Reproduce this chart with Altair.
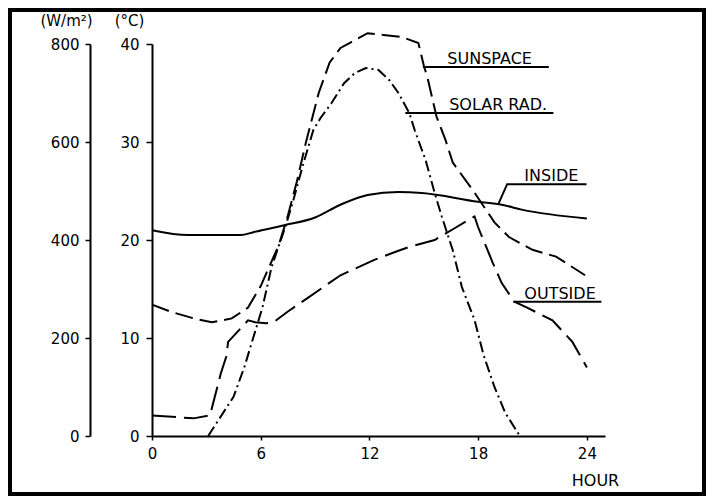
import altair as alt
import pandas as pd

FONT = "DejaVu Sans"

# ---- data ----
inside_hour = [0, 2, 4.9, 5.6, 7.3, 9, 10.4, 11.9, 13.6, 14.9, 18, 19.3, 20.4, 24]
inside_temp = [21.0, 20.5, 20.5, 20.8, 21.5, 22.3, 23.6, 24.6, 24.9, 24.8, 23.9, 23.6, 23.1, 22.2]

sunspace_hour = [0, 1, 2.3, 3.3, 4.4, 5.3, 6, 7, 7.5, 8, 8.5, 9.2, 9.8, 10.4, 11, 11.9, 12.9, 13.8,
                 14.7, 15.0, 15.2, 15.7, 16.2, 16.6, 17.7, 18.9, 19.7, 21, 22.3, 23.9]
sunspace_temp = [13.4, 12.7, 12.0, 11.6, 12.0, 13.1, 15.3, 19.5, 22.5, 26.0, 30.0, 35.0, 38.1, 39.6,
                 40.2, 41.1, 40.9, 40.7, 40.1, 37.8, 36.6, 32.6, 30.2, 27.9, 25.1, 21.8, 20.3, 19.0,
                 18.3, 16.4]

outside_hour = [0, 2.3, 3.2, 3.8, 4.1, 4.2, 5.3, 5.7, 6.3, 6.7, 7.5, 8.6, 10.4, 12.3, 13.6, 14.2,
                15.6, 16.7, 17.8, 18.0, 18.8, 19.3, 20, 20.7, 22.1, 23.2, 24]
outside_temp = [2.1, 1.8, 2.1, 6.4, 8.1, 9.6, 11.8, 11.6, 11.5, 11.6, 12.7, 14.1, 16.4, 18.0, 18.9,
                19.3, 20.0, 21.2, 22.4, 21.3, 17.7, 15.6, 13.7, 13.1, 11.8, 9.6, 7.0]

solar_hour = [3.1, 4.5, 5.1, 5.6, 6.1, 6.6, 7.35, 7.8, 8.3, 8.9, 9.3, 9.9, 10.6, 11.2, 11.8, 12.5,
              13.1, 13.6, 14.2, 14.5, 15.1, 15.6, 16, 16.6, 17.1, 17.8, 18.3, 18.9, 19.5, 20.3]
solar_wm2 = [0, 80, 141, 202, 263, 345, 426, 481, 549, 624, 649, 679, 720, 741, 751, 747, 726, 700,
             659, 624, 563, 496, 447, 379, 304, 237, 165, 100, 47, 0]

x_ticks = [0, 6, 12, 18, 24]
temp_ticks = [0, 10, 20, 30, 40]
wm2_ticks = [0, 200, 400, 600, 800]

# labels (in hour / °C coordinates)
ann_label = ["SUNSPACE", "SOLAR RAD.", "INSIDE", "OUTSIDE"]
ann_hour = [16.3, 16.4, 20.55, 20.55]
ann_temp = [38.0, 33.3, 26.0, 13.95]

# leader / underline lines per label
lead_group = ["SUNSPACE", "SUNSPACE", "SOLAR RAD.", "SOLAR RAD.", "INSIDE", "INSIDE", "INSIDE",
              "OUTSIDE", "OUTSIDE"]
lead_hour = [14.95, 21.9, 13.98, 22.15, 19.1, 19.6, 23.98, 19.94, 24.8]
lead_temp = [37.65, 37.65, 32.96, 32.96, 23.6, 25.7, 25.7, 13.7, 13.7]

# ---- tables ----
df_inside = pd.DataFrame({"hour": inside_hour, "temp": inside_temp})
df_sun = pd.DataFrame({"hour": sunspace_hour, "temp": sunspace_temp})
df_out = pd.DataFrame({"hour": outside_hour, "temp": outside_temp})
df_solar = pd.DataFrame({"hour": solar_hour, "wm2": solar_wm2})
df_ann = pd.DataFrame({"hour": ann_hour, "temp": ann_temp, "label": ann_label})
df_lead = pd.DataFrame({"hour": lead_hour, "temp": lead_temp, "grp": lead_group,
                        "ord": list(range(len(lead_hour)))})

x_enc = alt.X(
    "hour:Q",
    scale=alt.Scale(domain=[0, 25], nice=False, zero=False),
    axis=alt.Axis(values=x_ticks, title="HOUR", labelFlush=False, tickSize=4,
                  labelPadding=6, labelFontSize=15, titleFontSize=16, titleFontWeight="normal",
                  titleX=443, titleY=44, titleAlign="center", titleBaseline="middle"),
)
y_temp = alt.Y(
    "temp:Q",
    scale=alt.Scale(domain=[0, 40], nice=False),
    axis=alt.Axis(values=temp_ticks, orient="left", title="(°C)", titleAngle=0, titleX=-23,
                  titleY=-24, titleAlign="center", titleBaseline="middle", titleFontSize=15,
                  titleFontWeight="normal", tickSize=6, labelPadding=7, labelFontSize=15),
)

inside = alt.Chart(df_inside).mark_line(color="black", strokeWidth=2, interpolate="monotone").encode(
    x=x_enc, y=y_temp)
sun = alt.Chart(df_sun).mark_line(color="black", strokeWidth=2, strokeDash=[18, 7]).encode(
    x=x_enc, y=y_temp)
out = alt.Chart(df_out).mark_line(color="black", strokeWidth=2, strokeDash=[24, 8]).encode(
    x=x_enc, y=y_temp)
lead = alt.Chart(df_lead).mark_line(color="black", strokeWidth=2).encode(
    x=x_enc, y=y_temp, detail="grp:N", order="ord:Q")
ann = alt.Chart(df_ann).mark_text(align="left", baseline="alphabetic", font=FONT, fontSize=16,
                                  color="black").encode(x=x_enc, y=y_temp, text="label:N")
border = alt.Chart(alt.Data(values=[{}])).mark_rect(
    fillOpacity=0, stroke="black", strokeWidth=4).encode(
    x=alt.value(-142), x2=alt.value(552), y=alt.value(-34), y2=alt.value(450))

temp_layer = alt.layer(border, inside, sun, out, lead, ann)

solar = alt.Chart(df_solar).mark_line(color="black", strokeWidth=2, strokeDash=[11, 4, 2, 4]).encode(
    x=x_enc,
    y=alt.Y("wm2:Q", scale=alt.Scale(domain=[0, 800], nice=False),
            axis=alt.Axis(values=wm2_ticks, orient="left", offset=62, title="(W/m²)", titleAngle=0,
                          titleX=-24, titleY=-24, titleAlign="center", titleBaseline="middle",
                          titleFontSize=15, titleFontWeight="normal", tickSize=5, labelPadding=6,
                          labelFontSize=15)),
)

chart = alt.layer(temp_layer, solar).resolve_scale(y="independent").properties(
    width=453, height=392,
    padding={"left": 144, "top": 36, "right": 101, "bottom": 60},
    autosize=alt.AutoSizeParams(type="none"),
    background="white",
).configure_view(stroke=None).configure_axis(
    grid=False, domainColor="black", tickColor="black", labelColor="black", titleColor="black",
    labelFont=FONT, titleFont=FONT, domainWidth=2, tickWidth=1.5,
)

chart.save("out.html", embed_options={"renderer": "svg", "actions": False})
